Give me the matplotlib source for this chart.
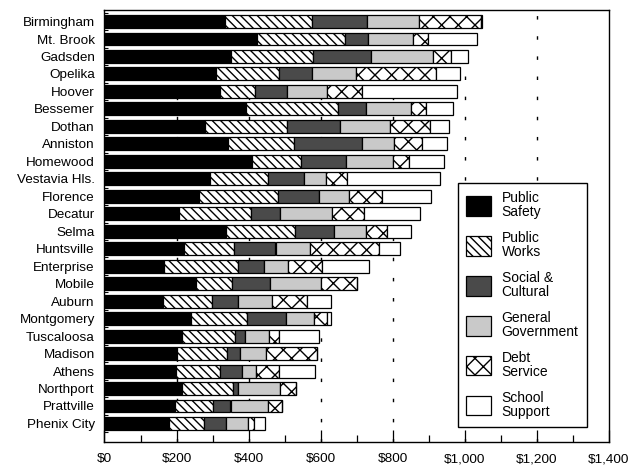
import matplotlib
matplotlib.use("Agg")
import matplotlib.pyplot as plt
import numpy as np

plt.rcParams['font.family'] = ['Liberation Sans', 'DejaVu Sans']
plt.rcParams['hatch.linewidth'] = 1.0

cities = ["Birmingham", "Mt. Brook", "Gadsden", "Opelika", "Hoover", "Bessemer",
          "Dothan", "Anniston", "Homewood", "Vestavia Hls.", "Florence", "Decatur",
          "Selma", "Huntsville", "Enterprise", "Mobile", "Auburn", "Montgomery",
          "Tuscaloosa", "Madison", "Athens", "Northport", "Prattville", "Phenix City"]

public_safety = [334, 424, 351, 309, 320, 393, 279, 344, 410, 293, 263, 207,
                 337, 221, 166, 254, 163, 239, 216, 201, 199, 214, 196, 179]
public_works = [241, 243, 228, 176, 98, 256, 228, 182, 135, 161, 219, 201,
                192, 139, 205, 99, 136, 158, 146, 140, 121, 143, 106, 98]
social_cultural = [153, 65, 160, 92, 88, 77, 148, 188, 125, 100, 113, 79,
                   108, 115, 73, 106, 73, 106, 27, 35, 62, 15, 48, 60]
general_gov = [145, 125, 173, 121, 112, 126, 139, 89, 131, 61, 84, 145,
               88, 97, 66, 142, 93, 79, 68, 72, 38, 116, 104, 62]
debt_service = [172, 41, 51, 224, 96, 42, 111, 79, 44, 59, 92, 88,
                60, 190, 94, 100, 98, 37, 28, 141, 65, 45, 38, 17]
school_support = [4, 136, 46, 65, 266, 73, 52, 69, 97, 259, 136, 155,
                  67, 58, 131, 0, 65, 9, 111, 0, 101, 0, 0, 31]

series_names = ["Public\nSafety", "Public\nWorks", "Social &\nCultural",
                "General\nGovernment", "Debt\nService", "School\nSupport"]
series = [public_safety, public_works, social_cultural, general_gov,
          debt_service, school_support]
facecolors = ["black", "white", "#4a4a4a", "#c9c9c9", "white", "white"]
hatches = [None, "\\\\\\\\", None, None, "xx", None]

xticks = [0, 200, 400, 600, 800, 1000, 1200, 1400]
xticklabels = ["$0", "$200", "$400", "$600", "$800", "$1,000", "$1,200", "$1,400"]

fig = plt.figure(figsize=(6.44, 4.67), dpi=100)
ax = fig.add_axes([104.5 / 644, 1 - 442 / 467, (608.5 - 104.5) / 644, (442 - 10) / 467])

y = np.arange(len(cities))
left = np.zeros(len(cities))
for name, vals, fc, h in zip(series_names, series, facecolors, hatches):
    vals = np.array(vals, dtype=float)
    ax.barh(y, vals, left=left, height=0.74, color=fc, edgecolor="black",
            linewidth=0.9, hatch=h, label=name, zorder=3)
    left += vals

for xv in xticks[1:-1]:
    ax.axvline(xv, color="black", linewidth=1.0, linestyle=(0, (2.5, 12)), zorder=1)

ax.set_xlim(0, 1400)
ax.set_ylim(24.06, -0.66)
ax.set_yticks(y)
ax.set_yticklabels(cities, fontsize=9.7)
ax.tick_params(axis="y", length=0, pad=7)
ax.set_yticks(np.arange(-0.5, len(cities), 1), minor=True)
ax.tick_params(axis="y", which="minor", direction="in", length=3, width=0.8)
ax.set_xticks(xticks)
ax.set_xticklabels(xticklabels, fontsize=9.7)
ax.set_xticks(np.arange(100, 1400, 200), minor=True)
ax.tick_params(axis="x", which="major", direction="in", length=9, width=0.9, pad=8)
ax.tick_params(axis="x", which="minor", direction="in", length=5, width=0.9)
for s in ax.spines.values():
    s.set_linewidth(1.0)
    s.set_color("black")

leg = ax.legend(loc="upper left", bbox_to_anchor=(458 / 644, 1 - 183 / 467),
                bbox_transform=fig.transFigure, borderaxespad=0, fontsize=10,
                frameon=True, fancybox=False, edgecolor="black", framealpha=1,
                handlelength=1.8, handleheight=1.75, handletextpad=0.75,
                labelspacing=0.9, borderpad=0.6)
leg.get_frame().set_linewidth(1.0)
for t in leg.get_texts():
    t.set_linespacing(0.95)

fig.savefig("out.png", dpi=100)
